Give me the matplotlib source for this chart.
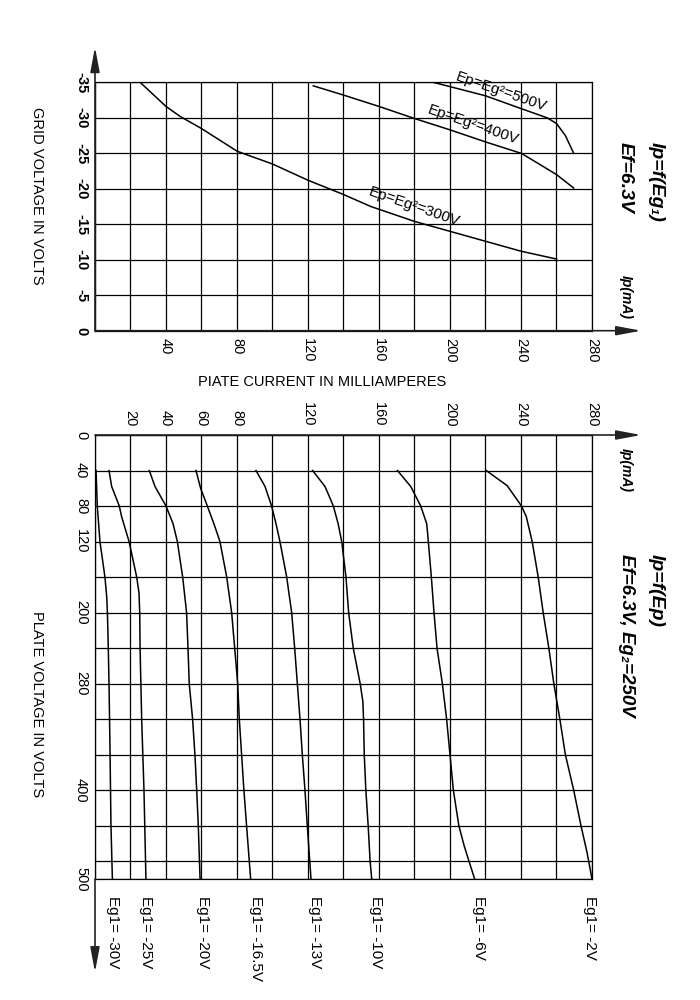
import numpy as np
import matplotlib.pyplot as plt
from matplotlib.transforms import blended_transform_factory

plt.rcParams['font.family'] = ['Liberation Sans', 'DejaVu Sans']

# upper chart: Ip = f(Eg1), one curve per Ep = Eg2
ip_300 = [25.4, 40, 47.9, 59.9, 80, 85.4, 99.9, 120, 139.9, 155.4, 180, 200, 220, 240, 260]
eg_300 = [-35, -31.6, -30.2, -28.5, -25.3, -24.8, -23.5, -21.2, -19.2, -17.5, -15.4, -14.0, -12.6, -11.2, -10.1]
ip_400 = [123, 140, 160, 180, 200, 220, 240, 243.5, 260, 269.7]
eg_400 = [-34.5, -33.2, -31.6, -29.9, -28.3, -26.6, -25.0, -24.5, -22.0, -20.1]
ip_500 = [190.5, 220, 240, 254.7, 260, 265, 269.7]
eg_500 = [-35, -33.1, -31.3, -30.0, -29.2, -27.5, -25.0]
eg1_ticks = [0, -5, -10, -15, -20, -25, -30, -35]
top_ip_labels = [40, 80, 120, 160, 200, 240, 280]

# lower chart: Ip = f(Ep), one curve per Eg1
ep_m30 = [40, 80, 120, 160, 182, 200, 240, 280, 360, 440, 500]
ip_m30 = [0.6, 1.3, 2.8, 5.6, 6.6, 7.0, 7.5, 7.9, 8.5, 9.0, 9.8]
ep_m25 = [40, 58, 80, 92, 120, 134, 160, 178, 200, 240, 320, 400, 500]
ip_m25 = [7.9, 9.4, 13.7, 15.0, 19.2, 20.7, 23.5, 24.8, 25.2, 25.4, 26.3, 27.6, 28.7]
ep_m20 = [40, 58, 80, 100, 120, 160, 200, 240, 280, 320, 360, 400, 440, 500]
ip_m20 = [30.6, 33.8, 40.0, 44.0, 46.4, 49.4, 51.6, 52.4, 53.1, 55.0, 56.3, 57.3, 58.2, 59.2]
ep_m165 = [40, 60, 80, 100, 120, 160, 200, 240, 280, 320, 360, 400, 440, 500]
ip_m165 = [56.9, 59.5, 63.3, 67.0, 70.4, 74.2, 77.0, 78.7, 80.4, 81.3, 82.6, 83.9, 85.4, 87.7]
ep_m13 = [40, 58, 80, 100, 120, 160, 200, 240, 280, 320, 360, 400, 440, 500]
ip_m13 = [90.7, 95.8, 99.5, 102.0, 104.2, 108.0, 110.8, 112.5, 114.0, 115.5, 116.8, 118.3, 119.6, 121.7]
ep_m10 = [40, 58, 80, 100, 120, 160, 200, 240, 280, 300, 320, 360, 400, 440, 480, 500]
ip_m10 = [122.6, 129.6, 134.3, 137.0, 139.0, 141.4, 142.9, 145.5, 149.4, 150.9, 151.3, 151.7, 152.6, 153.9, 155.0, 155.9]
ep_m6 = [40, 58, 80, 100, 120, 160, 200, 240, 280, 320, 360, 400, 440, 462, 480, 500]
ip_m6 = [170.4, 177.9, 183.5, 186.9, 187.8, 189.5, 191.0, 192.7, 195.7, 198.1, 200.0, 201.9, 205.0, 207.9, 210.7, 213.9]
ep_m2 = [40, 57, 80, 92, 120, 160, 200, 240, 280, 320, 360, 400, 440, 470, 500]
ip_m2 = [220.4, 232.2, 240.3, 243.0, 246.3, 249.7, 252.5, 255.7, 258.5, 261.9, 265.0, 269.7, 273.8, 277.2, 280.0]

curve_names = ['Eg1= -30V', 'Eg1= -25V', 'Eg1= -20V', 'Eg1= -16.5V',
               'Eg1= -13V', 'Eg1= -10V', 'Eg1= -6V', 'Eg1= -2V']
ep_curves = [ep_m30, ep_m25, ep_m20, ep_m165, ep_m13, ep_m10, ep_m6, ep_m2]
ip_curves = [ip_m30, ip_m25, ip_m20, ip_m165, ip_m13, ip_m10, ip_m6, ip_m2]
name_ip = [10.1, 28.6, 60.8, 90.9, 124.2, 158.3, 216.1, 279.1]
ep_grid = [0, 40, 80, 120, 160, 200, 240, 280, 320, 360, 400, 440, 480, 500]
ep_labels = [0, 40, 80, 120, 200, 280, 400, 500]
bottom_ip_labels = [20, 40, 60, 80, 120, 160, 200, 240, 280]
ip_grid = np.arange(0, 281, 20)


def axis_arrow(ax, start, end):
    ax.annotate('', xy=end, xytext=start, xycoords='axes fraction',
                textcoords='axes fraction', annotation_clip=False,
                arrowprops=dict(arrowstyle='-|>,head_length=0.75,head_width=0.14',
                                color='#222', lw=1.2, mutation_scale=20,
                                shrinkA=0, shrinkB=0))


def style_axes(ax):
    ax.grid(True, color='black', lw=0.9)
    ax.set_axisbelow(True)
    for sp in ax.spines.values():
        sp.set_color('black')
        sp.set_linewidth(0.9)
    ax.tick_params(length=0, labelsize=10.5, labelrotation=-90)
    for lbl in ax.get_yticklabels():
        lbl.set_va('center')


fig = plt.figure(figsize=(7, 10), dpi=100)
ax1 = fig.add_axes([0.1357, 0.6693, 0.71, 0.2484])
ax2 = fig.add_axes([0.1357, 0.121, 0.71, 0.444])

# ---- upper chart
ax1.plot(ip_300, eg_300, color='black', lw=1.1)
ax1.plot(ip_400, eg_400, color='black', lw=1.1)
ax1.plot(ip_500, eg_500, color='black', lw=1.1)
ax1.set_xlim(0, 280)
ax1.set_ylim(0, -35)
ax1.set_xticks(ip_grid)
ax1.set_xticklabels([str(v) if v in top_ip_labels else '' for v in ip_grid])
ax1.set_yticks(eg1_ticks)
ax1.set_yticklabels([str(v) for v in eg1_ticks], fontweight='bold')
style_axes(ax1)
ax1.tick_params(axis='x', pad=5)
ax1.tick_params(axis='y', pad=5)

ax1.text(229, -33.6, 'Ep=Eg²=500V', rotation=-19, ha='center', va='center', fontsize=11)
ax1.text(213, -29.0, 'Ep=Eg²=400V', rotation=-19, ha='center', va='center', fontsize=11)
ax1.text(180, -17.4, 'Ep=Eg²=300V', rotation=-19, ha='center', va='center', fontsize=11)

axis_arrow(ax1, (0, 0), (0, 1.142))
axis_arrow(ax1, (0, 0), (1.099, 0))

# ---- lower chart
for ep, ip in zip(ep_curves, ip_curves):
    ax2.plot(ip, ep, color='black', lw=1.1)
ax2.set_xlim(0, 280)
ax2.set_ylim(500, 0)
ax2.xaxis.tick_top()
ax2.set_xticks(ip_grid)
ax2.set_xticklabels([str(v) if v in bottom_ip_labels else '' for v in ip_grid])
ax2.set_yticks(ep_grid)
ax2.set_yticklabels([str(v) if v in ep_labels else '' for v in ep_grid])
style_axes(ax2)
ax2.tick_params(axis='x', pad=6)
ax2.tick_params(axis='y', pad=5)

trans = blended_transform_factory(ax2.transData, ax2.transAxes)
for name, x in zip(curve_names, name_ip):
    ax2.text(x, -0.038, name, transform=trans, rotation=-90, ha='center', va='top', fontsize=11)

axis_arrow(ax2, (0, 1), (1.099, 1))
axis_arrow(ax2, (0, 0), (0, -0.21))

# ---- axis titles and headings
fig.text(37 / 700, 1 - 196 / 1000, 'GRID VOLTAGE IN VOLTS', rotation=-90,
         ha='center', va='center', fontsize=10.5)
fig.text(37 / 700, 1 - 704 / 1000, 'PLATE VOLTAGE IN VOLTS', rotation=-90,
         ha='center', va='center', fontsize=10.5)
fig.text(322 / 700, 1 - 382 / 1000, 'PIATE CURRENT IN MILLIAMPERES',
         ha='center', va='center', fontsize=10.5)

head = dict(rotation=-90, ha='center', va='top', fontweight='bold', fontstyle='italic')
fig.text(656 / 700, 1 - 142 / 1000, 'Ip=f(Eg₁)', fontsize=14, **head)
fig.text(625 / 700, 1 - 142 / 1000, 'Ef=6.3V', fontsize=14, **head)
fig.text(626 / 700, 1 - 275 / 1000, 'Ip(mA)', fontsize=10, **head)
fig.text(626 / 700, 1 - 448 / 1000, 'Ip(mA)', fontsize=10, **head)
fig.text(656 / 700, 1 - 554 / 1000, 'Ip=f(Ep)', fontsize=14, **head)
fig.text(626 / 700, 1 - 554 / 1000, 'Ef=6.3V, Eg₂=250V', fontsize=13.5, **head)

fig.savefig('out.png', dpi=100)
